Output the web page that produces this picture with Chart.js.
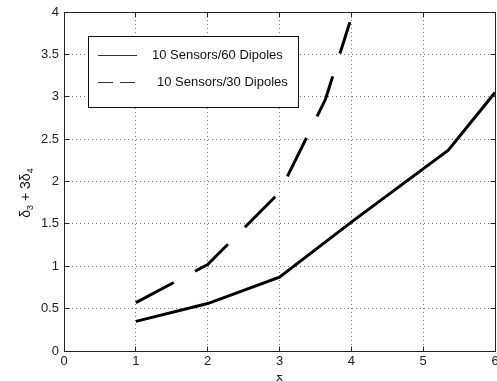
<!DOCTYPE html>
<html>
<head>
<meta charset="utf-8">
<script src="https://cdn.jsdelivr.net/npm/chart.js"></script>
<style>
  html, body { margin: 0; padding: 0; background: #fff; }
  #wrap { width: 497px; height: 381px; }
</style>
</head>
<body>
<div id="wrap"><canvas id="chart" width="497" height="381"></canvas></div>
<script>
// tick labels
const xTicks = [0, 1, 2, 3, 4, 5, 6];
const yTicks = [0, 0.5, 1, 1.5, 2, 2.5, 3, 3.5, 4];

// series
const label60 = '10 Sensors/60 Dipoles';
const x60 = [1, 2, 3, 4, 5.35, 6];
const y60 = [0.35, 0.56, 0.87, 1.52, 2.37, 3.05];

const label30 = '10 Sensors/30 Dipoles';
const x30 = [1, 2, 3, 3.64, 3.98];
const y30 = [0.57, 1.02, 1.87, 2.97, 3.88];

const toPoints = (xs, ys) => xs.map((v, i) => ({ x: v, y: ys[i] }));

Chart.defaults.font.family = '"Liberation Sans", Arial, sans-serif';
Chart.defaults.font.size = 13;
Chart.defaults.color = '#222';

// box, inner ticks, y title and legend, like the matlab figure
const framePlugin = {
  id: 'frame',
  afterDatasetsDraw(chart) {
    const { ctx, chartArea: a, scales: { x, y } } = chart;
    const px = v => Math.floor(v) + 0.5;
    const L = px(a.left), R = px(a.right), T = px(a.top), B = px(a.bottom);
    ctx.save();
    ctx.setLineDash([]);
    ctx.strokeStyle = '#222';
    ctx.lineWidth = 1;
    ctx.strokeRect(L, T, R - L, B - T);

    ctx.beginPath();
    xTicks.forEach(v => {
      const p = px(x.getPixelForValue(v));
      ctx.moveTo(p, B); ctx.lineTo(p, B - 5);
      ctx.moveTo(p, T); ctx.lineTo(p, T + 5);
    });
    yTicks.forEach(v => {
      const p = px(y.getPixelForValue(v));
      ctx.moveTo(L, p); ctx.lineTo(L + 5, p);
      ctx.moveTo(R, p); ctx.lineTo(R - 5, p);
    });
    ctx.stroke();

    // legend
    ctx.fillStyle = '#fff';
    ctx.fillRect(88, 36, 210, 71);
    ctx.strokeStyle = '#111';
    ctx.strokeRect(88.5, 36.5, 210, 71);
    ctx.font = '13px "Liberation Sans", Arial, sans-serif';
    ctx.textBaseline = 'middle';
    ctx.textAlign = 'left';
    chart.data.datasets.forEach((ds, i) => {
      const yy = 55.5 + i * 27;
      ctx.strokeStyle = '#333';
      ctx.setLineDash(ds.borderDash ? [15, 7] : []);
      ctx.beginPath();
      ctx.moveTo(98, yy); ctx.lineTo(137, yy);
      ctx.stroke();
      ctx.fillStyle = '#111';
      ctx.fillText(ds.label, 152 + i * 5, yy);
    });
    ctx.restore();
  },
  afterDraw(chart) {
    const { ctx } = chart;
    // rotated y title with subscripts
    const parts = [
      ['δ', 14, 0], ['3', 9, 3], [' + 3', 14, 0], ['δ', 14, 0], ['4', 9, 3]
    ];
    ctx.save();
    ctx.translate(30, 193);
    ctx.rotate(-Math.PI / 2);
    ctx.fillStyle = '#111';
    ctx.textBaseline = 'alphabetic';
    ctx.textAlign = 'left';
    let w = 0;
    parts.forEach(p => {
      ctx.font = p[1] + 'px "Liberation Sans", Arial, sans-serif';
      w += ctx.measureText(p[0]).width;
    });
    let cx = -w / 2;
    parts.forEach(p => {
      ctx.font = p[1] + 'px "Liberation Sans", Arial, sans-serif';
      ctx.fillText(p[0], cx, p[2]);
      cx += ctx.measureText(p[0]).width;
    });
    ctx.restore();
  }
};

new Chart(document.getElementById('chart'), {
  type: 'line',
  data: {
    datasets: [
      {
        label: label60,
        data: toPoints(x60, y60),
        borderColor: '#000',
        borderWidth: 3,
        pointRadius: 0,
        tension: 0,
        fill: false
      },
      {
        label: label30,
        data: toPoints(x30, y30),
        borderColor: '#000',
        borderWidth: 3,
        borderDash: [43, 24],
        pointRadius: 0,
        tension: 0,
        fill: false
      }
    ]
  },
  options: {
    responsive: false,
    animation: false,
    devicePixelRatio: 1,
    layout: { padding: { left: 0, right: 2, top: 12, bottom: 0 } },
    plugins: { legend: { display: false }, tooltip: { enabled: false } },
    scales: {
      x: {
        type: 'linear',
        min: 0,
        max: 6,
        afterBuildTicks: s => { s.ticks = xTicks.map(v => ({ value: v })); },
        afterFit: s => { s.height = 30; s.paddingLeft = 0; s.paddingRight = 0; },
        grid: { color: '#777', lineWidth: 1, drawTicks: false },
        border: { display: false, dash: [1, 3] },
        ticks: { padding: 3, maxRotation: 0, color: '#222', callback: v => String(v) },
        title: {
          display: true,
          text: 'δ',
          font: { size: 14 },
          padding: { top: 0, bottom: -10 }
        }
      },
      y: {
        min: 0,
        max: 4,
        afterBuildTicks: s => { s.ticks = yTicks.map(v => ({ value: v })); },
        afterFit: s => { s.width = 64; s.paddingTop = 0; s.paddingBottom = 0; },
        grid: { color: '#777', lineWidth: 1, drawTicks: false },
        border: { display: false, dash: [1, 3] },
        ticks: { padding: 5, color: '#222', callback: v => String(v) }
      }
    }
  },
  plugins: [framePlugin]
});
</script>
</body>
</html>
